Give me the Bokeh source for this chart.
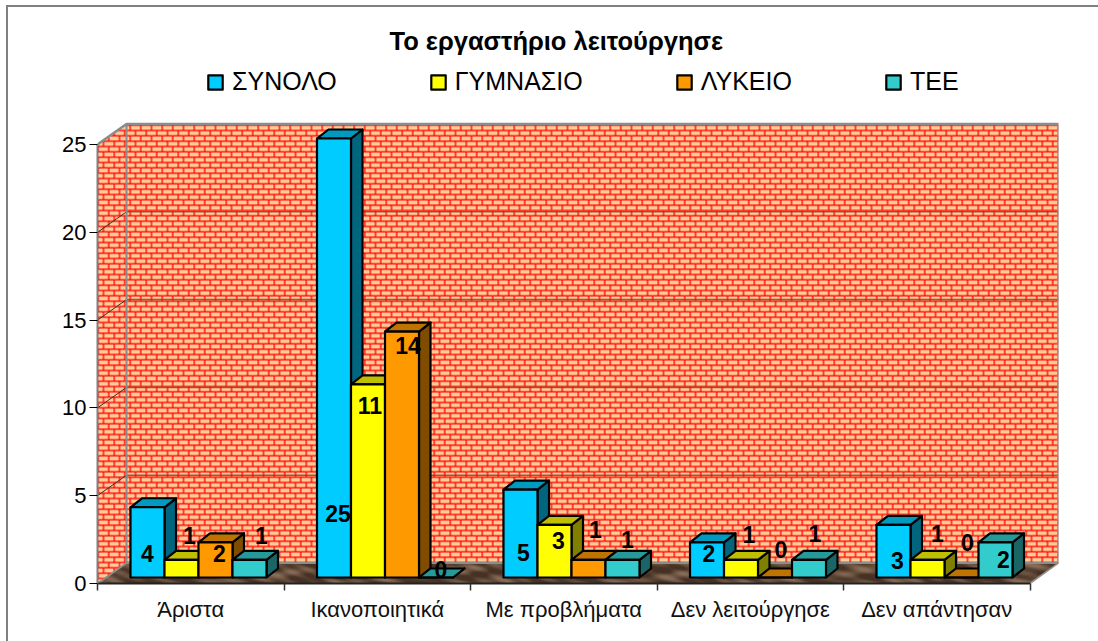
import numpy as np
from bokeh.embed import file_html
from bokeh.resources import INLINE
from bokeh.plotting import figure
from bokeh.models import Range1d, FixedTicker, Legend, LegendItem
from bokeh.core.properties import value

# ---- data -------------------------------------------------------------
title = "Το εργαστήριο λειτούργησε"
categories = ["Άριστα", "Ικανοποιητικά", "Με προβλήματα", "Δεν λειτούργησε", "Δεν απάντησαν"]
series = ["ΣΥΝΟΛΟ", "ΓΥΜΝΑΣΙΟ", "ΛΥΚΕΙΟ", "ΤΕΕ"]
synolo = [4, 25, 5, 2, 3]
gymnasio = [1, 11, 3, 1, 1]
lykeio = [2, 14, 1, 0, 0]
tee = [1, 0, 1, 1, 2]
y_ticks = [0, 5, 10, 15, 20, 25]

# ---- styles ------------------------------------------------------------
front = ["#00CCFF", "#FFFF00", "#FF9900", "#33CCCC"]
top_c = ["#0099BF", "#BFBF00", "#BF7300", "#269999"]
side = ["#006680", "#808000", "#804C00", "#1A6666"]
FONT = "Liberation Sans"
# label nudges in pixels from the centre of the bar's top front edge
nudges = [
    [(-1, 46), (7, -24), (3, 11), (11, -24)],
    [(3, 375), (1, 21), (5, 14), (4, -8)],
    [(2, 63), (3, 16), (6, -30), (4, -20)],
    [(1, 11), (7, -25), (5, -28), (5, -26)],
    [(3, 36), (9, -26), (5, -35), (7, 17)],
]

# ---- geometry ----------------------------------------------------------
PAGE_W, PAGE_H = 1098, 641
PX_CAT = 186.5      # px per category
PX_VAL = 17.56      # px per unit
FRAME_L, FRAME_T, FRAME_W, FRAME_B = 97, 60, 961, 583
FRAME_H = FRAME_B - FRAME_T
WALL_H = 459        # px, floor + walls
WALL_DX, WALL_DY = 29 / PX_CAT, 20.5 / PX_VAL
BAR_X0, BAR_W = 33 / PX_CAT, 34 / PX_CAT
BAR_Y0 = 6 / PX_VAL
DEPTH_X, DEPTH_Y = 11.5 / PX_CAT, 9 / PX_VAL
x_end, y_end = FRAME_W / PX_CAT, FRAME_H / PX_VAL

p = figure(width=PAGE_W, height=PAGE_H, output_backend="svg", toolbar_location=None,
           x_range=Range1d(0, x_end), y_range=Range1d(0, y_end),
           min_border_left=FRAME_L, min_border_right=PAGE_W - FRAME_L - FRAME_W,
           min_border_top=FRAME_T, min_border_bottom=PAGE_H - FRAME_B,
           border_fill_color=None, background_fill_color=None,
           outline_line_color=None)
p.styles = {"background":
            "linear-gradient(#808080,#808080) 6px 5px/1092px 2px no-repeat,"
            "linear-gradient(#808080,#808080) 6px 5px/2px 636px no-repeat,white"}
p.grid.visible = False

# ---- walls and floor texture -------------------------------------------
SS = 3
H, W = WALL_H * SS, FRAME_W * SS
yy, xx = np.mgrid[0:H, 0:W]
xp = (xx + .5) / SS
yp = (yy + .5) / SS
ROW, BRICK = 16 / 3, 32 / 3
row = np.floor(yp / ROW)
mortar = ((yp % ROW) < 1.25) | (((xp + (row % 2) * ROW) % BRICK) < 1.25)
rgb = np.empty((H, W, 3))
rgb[:] = (255, 204, 153)
rgb[mortar] = (255, 0, 0)
dx_px, dy_px = WALL_DX * PX_CAT, WALL_DY * PX_VAL
floor_top = WALL_H - dy_px
wall_mask = (yp < floor_top + (dx_px - np.minimum(xp, dx_px)) * dy_px / dx_px) & \
            (yp > (dx_px - np.minimum(xp, dx_px)) * dy_px / dx_px)
floor_mask = (yp >= floor_top + (dx_px - np.minimum(xp, dx_px)) * dy_px / dx_px) & \
             (xp <= FRAME_W - (yp - floor_top) * dx_px / dy_px)
mott = (np.sin(xp * .11 + 1.5 * np.sin(yp * .35)) + np.sin(xp * .047 + yp * .4 + 1.3) +
        np.sin(xp * .23 - yp * .6 + 2 * np.sin(xp * .03))) / 3
shade = np.clip(.35 + .8 * mott, 0, 1)[..., None]
rgb = np.where(floor_mask[..., None],
               np.array((70, 50, 36)) * (1 - shade) + np.array((135, 108, 86)) * shade, rgb)
alpha = (wall_mask | floor_mask).astype(float) * 255
rgba = np.dstack([rgb, alpha])
rgba = rgba.reshape(WALL_H, SS, FRAME_W, SS, 4).mean(axis=(1, 3)).astype(np.uint8)
img = np.zeros((WALL_H, FRAME_W), dtype=np.uint32)
img.view(np.uint8).reshape(WALL_H, FRAME_W, 4)[:] = rgba[::-1]
p.image_rgba(image=[img], x=0, y=0, dw=x_end, dh=WALL_H / PX_VAL)

# grid on the side and back walls
grid_vals = y_ticks[1:-1]
p.segment(x0=[WALL_DX] * len(grid_vals), x1=[x_end] * len(grid_vals),
          y0=[v + WALL_DY for v in grid_vals], y1=[v + WALL_DY for v in grid_vals],
          line_color="#7A4A30", line_width=1.5, line_alpha=.85)
p.segment(x0=[0] * len(grid_vals), x1=[WALL_DX] * len(grid_vals),
          y0=grid_vals, y1=[v + WALL_DY for v in grid_vals],
          line_color="#333333", line_width=1)
# wall edges
p.line(x=[0, WALL_DX, x_end, x_end], y=[y_ticks[-1], y_ticks[-1] + WALL_DY, y_ticks[-1] + WALL_DY, WALL_DY],
       line_color="#8C8C8C", line_width=2.5)
p.line(x=[WALL_DX, WALL_DX], y=[WALL_DY, y_ticks[-1] + WALL_DY], line_color="#8C8C8C", line_width=2)
p.line(x=[0, WALL_DX, x_end], y=[0, WALL_DY, WALL_DY], line_color="#8C8C8C", line_width=2)
p.line(x=[x_end, len(categories)], y=[WALL_DY, 0], line_color="#8C8C8C", line_width=1.5)

# ---- bars --------------------------------------------------------------
all_series = [synolo, gymnasio, lykeio, tee]
legend_r = [None] * 4
for i in range(len(categories)):
    for j, vals in enumerate(all_series):
        v = vals[i]
        x0 = i + BAR_X0 + j * BAR_W
        x1 = x0 + BAR_W
        y0 = BAR_Y0
        y1 = BAR_Y0 + v
        p.patch(x=[x1, x1 + DEPTH_X, x1 + DEPTH_X, x1], y=[y0, y0 + DEPTH_Y, y1 + DEPTH_Y, y1],
                fill_color=side[j], line_color="black", line_width=2.2, line_join="round")
        p.patch(x=[x0, x0 + DEPTH_X, x1 + DEPTH_X, x1], y=[y1, y1 + DEPTH_Y, y1 + DEPTH_Y, y1],
                fill_color=top_c[j], line_color="black", line_width=2.2, line_join="round")
        r = p.quad(left=x0, right=x1, bottom=y0, top=y1,
                   fill_color=front[j], line_color="black", line_width=2.2, line_join="round")
        if legend_r[j] is None:
            legend_r[j] = r

# ---- data labels -------------------------------------------------------
for i in range(len(categories)):
    for j, vals in enumerate(all_series):
        nx, ny = nudges[i][j]
        p.text(x=[i + (34 / PX_CAT) + (j + .5) * BAR_W], y=[BAR_Y0 + vals[i]], text=[str(vals[i])],
               x_offset=nx, y_offset=ny, text_align="center", text_baseline="middle",
               text_font=value(FONT), text_font_style="bold", text_font_size="23px", text_color="black")

# ---- axes --------------------------------------------------------------
ya = p.yaxis[0]
ya.ticker = FixedTicker(ticks=y_ticks)
ya.bounds = (0, y_ticks[-1])
ya.major_tick_out = 8
ya.major_tick_in = 0
ya.minor_tick_out = 0
ya.minor_tick_in = 0
ya.major_tick_line_color = "black"
ya.axis_line_color = "#808080"
ya.axis_line_width = 2
ya.major_label_text_font = FONT
ya.major_label_text_font_size = "22px"
ya.major_label_text_color = "black"
ya.major_label_standoff = 3

xa = p.xaxis[0]
centers = [i + .5 for i in range(len(categories))]
xa.ticker = FixedTicker(ticks=centers, minor_ticks=list(range(len(categories) + 1)))
xa.major_label_overrides = {c: n for c, n in zip(centers, categories)}
xa.bounds = (0, len(categories))
xa.major_tick_out = 0
xa.major_tick_in = 0
xa.minor_tick_out = 7
xa.minor_tick_in = 0
xa.minor_tick_line_color = "#333333"
xa.minor_tick_line_width = 1.5
xa.axis_line_color = "#222222"
xa.axis_line_width = 2
xa.major_label_text_font = FONT
xa.major_label_text_font_size = "22px"
xa.major_label_text_color = "#111111"
xa.major_label_standoff = 6

# ---- title and legend --------------------------------------------------
legend = Legend(items=[LegendItem(label=value(s), renderers=[r]) for s, r in zip(series, legend_r)],
                orientation="horizontal", location=(109, 487), padding=0, margin=0, spacing=92,
                glyph_width=18, glyph_height=18, label_standoff=8,
                label_text_font=FONT, label_text_font_size="25px", label_text_color="black",
                border_line_color=None, background_fill_color=None, background_fill_alpha=0)
p.add_layout(legend, "center")

p.title.text = title
p.title.align = "left"
p.title.offset = 292
p.title.standoff = 11
p.title.text_font = FONT
p.title.text_font_style = "bold"
p.title.text_font_size = "25.5px"
p.title.text_color = "black"

open("out.html", "w").write(file_html(p, INLINE))
